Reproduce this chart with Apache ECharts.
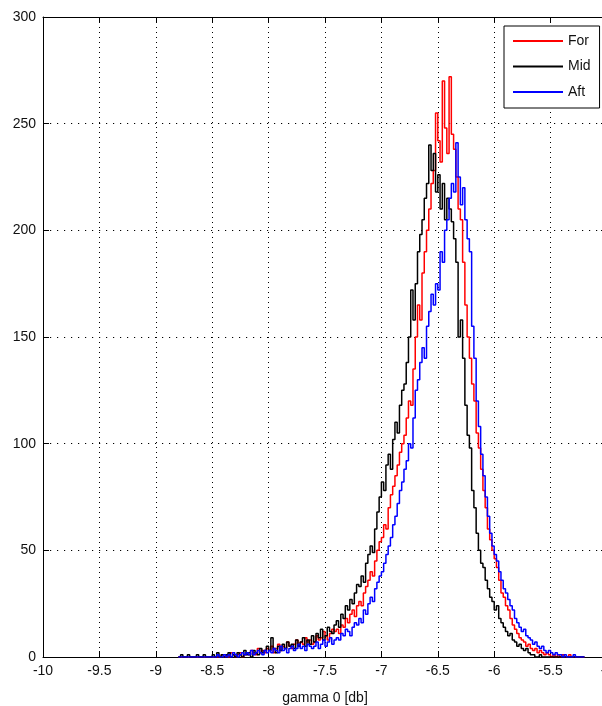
<!DOCTYPE html>
<html>
<head>
<meta charset="utf-8">
<script src="https://cdn.jsdelivr.net/npm/echarts@6/dist/echarts.min.js"></script>
<style>
  html, body { margin: 0; padding: 0; background: #fff; }
  #chart { width: 602px; height: 706px; }
</style>
</head>
<body>
<div id="chart"></div>
<script>
// Histogram bins: left edge of the first bin and common bin width (dB)
const binStart = -8.8;
const binWidth = 0.02;

// Counts per bin, one row of ten bins per 0.2 dB
const countsFor = [
  0,0,0,0,0,0,0,0,0,0,
  0,0,0,0,0,0,0,0,0,1,
  0,1,0,2,1,0,1,2,0,1,
  2,1,3,2,1,4,2,3,2,4,
  3,5,2,4,6,3,5,4,7,5,
  4,6,8,5,7,6,9,7,8,6,
  7,10,8,9,12,10,8,11,13,12,
  13,11,15,14,18,16,20,22,19,24,
  26,24,30,33,36,40,38,45,50,54,
  56,62,60,70,76,80,85,90,96,100,
  104,112,120,118,135,150,165,158,180,190,
  200,210,222,228,255,242,232,270,248,236,
  272,245,238,225,210,205,185,165,150,140,
  128,120,105,98,88,78,70,60,55,50,
  46,42,36,30,28,24,22,18,15,13,
  11,9,8,7,5,6,4,3,4,2,
  3,2,1,2,1,0,1,0,1,0,
  1,0,0,1,0,0,0,0,0,0
];

const countsMid = [
  0,1,0,0,1,0,0,0,1,0,
  0,1,0,0,0,1,0,2,0,1,
  0,1,2,0,1,0,2,1,0,3,
  1,2,0,3,2,1,4,2,3,5,
  3,9,4,2,5,3,6,4,7,5,
  6,4,8,5,7,9,5,8,6,10,
  7,11,9,13,8,10,14,12,11,15,
  17,14,20,18,24,22,27,25,30,34,
  33,38,35,44,48,52,49,60,68,75,
  82,78,90,95,88,102,110,105,118,125,
  128,138,150,172,158,175,190,198,205,215,
  222,240,228,236,218,226,210,222,205,215,
  210,204,196,185,150,158,140,118,104,98,
  78,70,58,50,44,42,36,32,28,26,
  22,24,18,16,14,12,10,11,8,7,
  5,6,4,3,4,2,1,1,0,0,
  1,0,0,0,0,0,0,0,0,0,
  0,0,0,0,0,0,0,0,0,0
];

const countsAft = [
  0,0,0,0,0,0,0,0,0,0,
  0,0,0,0,0,0,0,1,0,0,
  1,0,1,0,2,1,0,1,2,1,
  2,1,3,1,2,3,2,1,3,2,
  3,2,4,3,2,5,3,4,2,4,
  5,3,4,6,4,5,3,6,5,4,
  5,7,4,6,8,5,7,9,6,8,
  9,8,11,10,13,12,10,14,16,15,
  18,16,22,20,25,28,26,32,35,38,
  40,44,48,52,56,62,66,72,78,82,
  88,92,100,98,112,125,130,138,145,140,
  155,162,170,165,175,172,190,185,200,205,
  215,222,218,241,225,212,220,205,196,190,
  155,140,120,108,95,85,75,66,58,52,
  48,45,40,36,32,30,27,24,22,18,
  16,14,12,13,10,9,8,6,7,5,
  4,5,3,2,3,2,1,2,1,1,
  0,1,0,0,0,1,0,0,0,0
];

const seriesNames = ['For', 'Mid', 'Aft'];
const seriesColors = ['#ff0000', '#000000', '#0000ff'];
const xTicks = { min: -10, max: -5, step: 0.5 };
const yTicks = { min: 0, max: 300, step: 50 };
const xTitle = 'gamma 0 [db]';

// Stair outline: one point per bin edge, last count repeated at the closing edge
function stairs(counts) {
  const pts = counts.map((c, i) => [+(binStart + i * binWidth).toFixed(3), c]);
  pts.push([+(binStart + counts.length * binWidth).toFixed(3), counts[counts.length - 1]]);
  return pts;
}

const font = 'Liberation Sans, Arial, Helvetica, sans-serif';
const axisColor = '#000';

function xAxisCfg(pos, labels) {
  return {
    type: 'value', position: pos,
    min: xTicks.min, max: xTicks.max, interval: xTicks.step,
    axisLine: { show: true, onZero: false, lineStyle: { color: axisColor, width: 1 } },
    axisTick: { show: true, inside: true, length: 6, lineStyle: { color: axisColor } },
    axisLabel: {
      show: labels, color: '#111', fontFamily: font, fontSize: 14, margin: 7,
      showMinLabel: true, showMaxLabel: true, hideOverlap: false
    },
    splitLine: { show: labels, lineStyle: { color: '#000', width: 1, type: [1, 4] } },
    name: labels ? xTitle : '', nameLocation: 'middle', nameGap: 34,
    nameTextStyle: { color: '#111', fontFamily: font, fontSize: 14 }
  };
}
function yAxisCfg(pos, labels) {
  return {
    type: 'value', position: pos,
    min: yTicks.min, max: yTicks.max, interval: yTicks.step,
    axisLine: { show: true, onZero: false, lineStyle: { color: axisColor, width: 1 } },
    axisTick: { show: true, inside: true, length: 6, lineStyle: { color: axisColor } },
    axisLabel: { show: labels, color: '#111', fontFamily: font, fontSize: 14, margin: 7 },
    splitLine: { show: labels, lineStyle: { color: '#000', width: 1, type: [1.2, 5.8] } }
  };
}

const datasets = [countsFor, countsMid, countsAft];

const option = {
  animation: false,
  backgroundColor: '#fff',
  grid: {
    left: 43, top: 17, width: 564, height: 640,
    containLabel: false, outerBoundsMode: 'none'
  },
  xAxis: [xAxisCfg('bottom', true), xAxisCfg('top', false)],
  yAxis: [yAxisCfg('left', true), yAxisCfg('right', false)],
  legend: {
    data: seriesNames,
    orient: 'vertical',
    left: 504, top: 26,
    padding: [8, 9, 9, 8],
    itemWidth: 50, itemHeight: 14, itemGap: 11.5,
    itemStyle: { opacity: 0 },
    backgroundColor: '#fff', borderColor: '#000', borderWidth: 1,
    textStyle: { color: '#111', fontFamily: font, fontSize: 14 }
  },
  series: seriesNames.map((name, k) => ({
    name: name,
    type: 'line',
    step: 'end',
    symbol: 'none',
    xAxisIndex: 0, yAxisIndex: 0,
    data: stairs(datasets[k]),
    lineStyle: { color: seriesColors[k], width: 1.5 },
    itemStyle: { color: seriesColors[k] },
    emphasis: { disabled: true }
  }))
};

const chart = echarts.init(document.getElementById('chart'), null, { renderer: 'canvas' });
chart.setOption(option);
</script>
</body>
</html>
